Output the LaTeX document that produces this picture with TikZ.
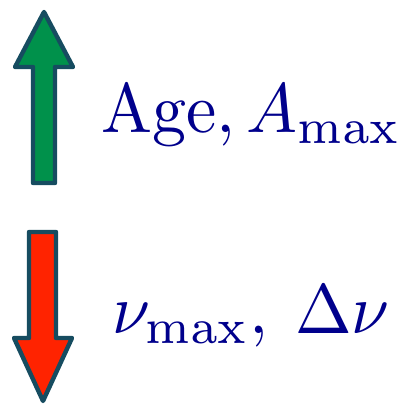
\documentclass[tikz,border=0pt]{standalone}
\usepackage{amsmath}
\definecolor{agreen}{RGB}{0,145,75}
\definecolor{ared}{RGB}{255,35,0}
\definecolor{aedge}{RGB}{22,76,96}
\definecolor{tblue}{RGB}{0,0,140}
\begin{document}
\begin{tikzpicture}[x=0.5pt,y=-0.5pt,
  arr/.style={draw=aedge,line width=2.2pt,line join=round},
  lbl/.style={anchor=base west,inner sep=0pt,text=tblue,xscale=3.4,yscale=3.5,font=\fontsize{10}{12}\selectfont}]
\useasboundingbox (0,0) rectangle (406,406);
\coordinate (gt) at (44,12);
\coordinate (rt) at (43,401);
\path[arr,fill=agreen] (gt) -- (73,67) -- (55,67) -- (55,183) -- (33,183) -- (33,67) -- (15,67) -- cycle;
\path[arr,fill=ared] (rt) -- (14,338) -- (29,338) -- (29,232) -- (56,232) -- (56,338) -- (72,338) -- cycle;
\node[lbl] (age) at (100,133) {$\mathrm{Age}, A_{\max}$};
\node[lbl] (nu) at (111,333) {$\nu_{\max},\:\Delta\nu$};
\end{tikzpicture}
\end{document}
